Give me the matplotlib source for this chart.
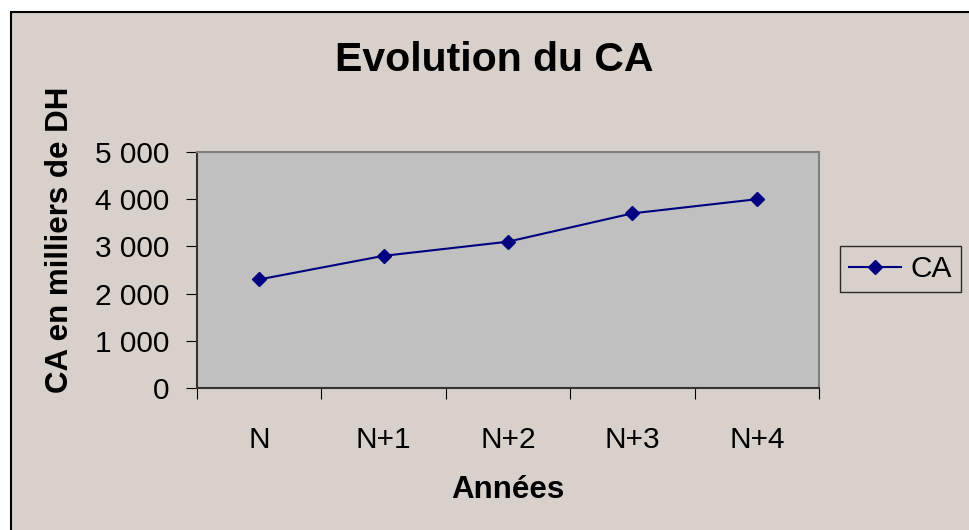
import matplotlib.pyplot as plt
from matplotlib.patches import Rectangle
from matplotlib.ticker import FuncFormatter

plt.rcParams['font.family'] = ['Liberation Sans', 'DejaVu Sans']

annees = ['N', 'N+1', 'N+2', 'N+3', 'N+4']
ca = [2300, 2800, 3100, 3700, 4000]

W, H = 969, 530
fig = plt.figure(figsize=(W / 100, H / 100), dpi=100)
fig.patch.set_facecolor('white')

# chart area frame (cut off at right and bottom)
fig.patches.append(Rectangle((11 / W, -0.05), 1.1, 1 - 12 / H + 0.05,
                             transform=fig.transFigure, facecolor='#d8d0ca',
                             edgecolor='black', linewidth=1.5, zorder=-10))

ax = fig.add_axes([197 / W, 1 - 388 / H, (819 - 197) / W, (388 - 152) / H])
ax.set_zorder(1)
ax.set_facecolor('#c0c0c0')

x = list(range(len(annees)))
ax.plot(x, ca, color='#000080', linewidth=1.5, marker='D', markersize=7, label='CA')

ax.set_xlim(-0.5, len(annees) - 0.5)
ax.set_ylim(0, 5000)
ax.set_yticks(range(0, 5001, 1000))
ax.yaxis.set_major_formatter(FuncFormatter(lambda v, p: f'{int(v):,}'.replace(',', ' ')))
ax.set_xticks([i - 0.5 for i in range(len(annees) + 1)])
ax.set_xticklabels([])
ax.set_xticks(x, minor=True)
ax.set_xticklabels(annees, minor=True)
ax.tick_params(axis='x', which='minor', length=0, pad=27, labelsize=21.5)
ax.tick_params(axis='x', which='major', length=8, direction='out', color='black')
ax.tick_params(axis='y', length=8, direction='out', labelsize=21.5, pad=12)

for s in ['top', 'right']:
    ax.spines[s].set_color('#808080')
    ax.spines[s].set_linewidth(1.5)
for s in ['left', 'bottom']:
    ax.spines[s].set_color('#333333')
    ax.spines[s].set_linewidth(1.5)

fig.text(494 / W, 1 - 60 / H, 'Evolution du CA', ha='center', va='center',
         fontsize=29.5, fontweight='bold')
fig.text(60 / W, 1 - 240 / H, 'CA en milliers de DH', ha='center', va='center',
         rotation=90, fontsize=22.5, fontweight='bold')
fig.text(508 / W, 1 - 490 / H, 'Années', ha='center', va='center',
         fontsize=22.5, fontweight='bold')

leg = ax.legend(loc='center left', bbox_to_anchor=(840 / W, 1 - 269 / H),
                bbox_transform=fig.transFigure, fontsize=21.5, frameon=True,
                fancybox=False, handlelength=1.75, borderpad=0.3,
                handletextpad=0.3, borderaxespad=0)
leg.get_frame().set_edgecolor('black')
leg.get_frame().set_facecolor('#d8d0ca')
leg.get_frame().set_linewidth(1)

fig.savefig('out.png', dpi=100)
